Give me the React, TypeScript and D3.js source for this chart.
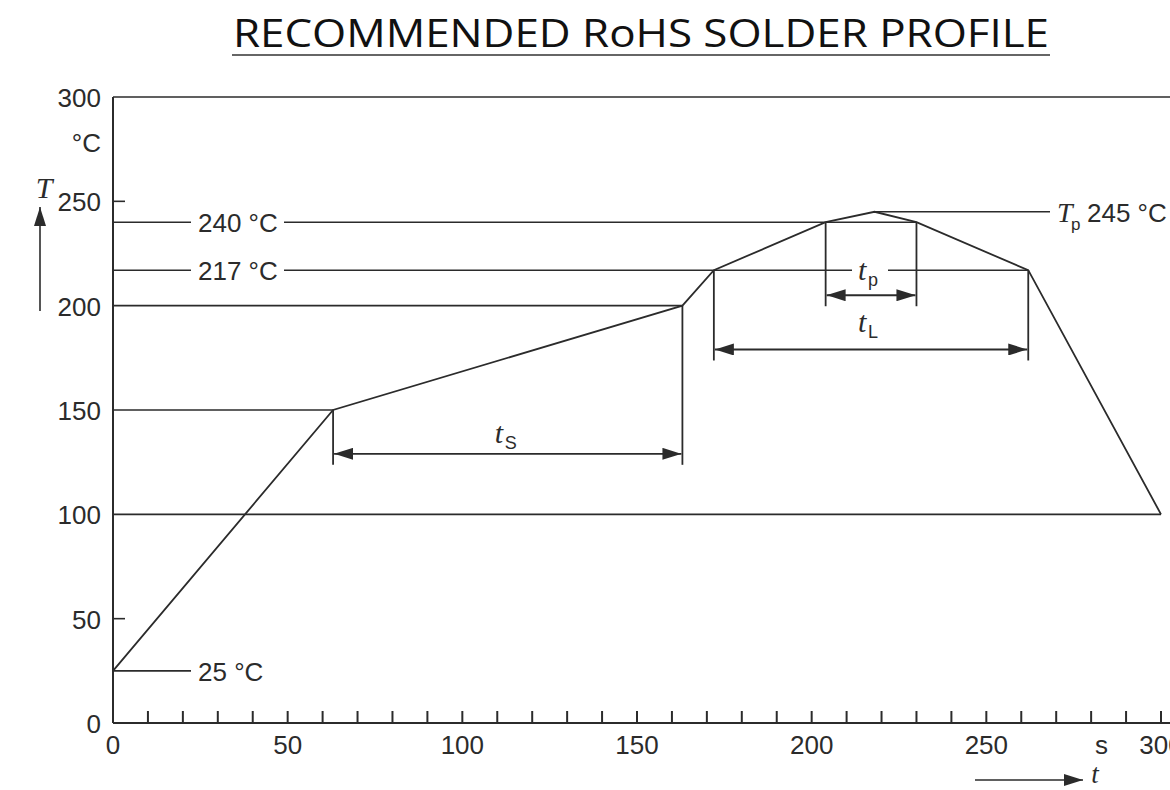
import React from "react";
import * as d3 from "d3";

// profile (seconds, °C)
const profileTime = [0, 63, 163, 172, 204, 218, 230, 262, 300];
const profileTemp = [25, 150, 200, 217, 240, 245, 240, 217, 100];

const xTickValues = d3.range(0, 301, 10);
const xLabelValues = [0, 50, 100, 150, 200, 250, 300];
const yLabelValues = [0, 50, 100, 150, 200, 250, 300];
const yShortTicks = [50, 250];

// horizontal reference lines: temp, end time
const refTemps = [100, 150, 200, 217, 240];
const refEnds = [300, 63, 163, 262, 230];

// duration spans: subscript, from, to, arrow height
const spanNames = ["S", "L", "p"];
const spanFrom = [63, 172, 204];
const spanTo = [163, 262, 230];
const spanLevel = [129, 179, 205];

const W = 1170;
const H = 790;
const ink = "#2b2b2b";
const font = "'Liberation Sans', Arial, sans-serif";
const serif = "'Liberation Serif', 'DejaVu Serif', serif";
const fs = 26;

const App = () => {
  const x = d3.scaleLinear().domain([0, 300]).range([113, 1161]);
  const y = d3.scaleLinear().domain([0, 300]).range([723, 97]);

  const line = d3
    .line<number>()
    .x((_, i) => x(profileTime[i]))
    .y((d) => y(d));

  return (
    <svg
      width={W}
      height={H}
      style={{ position: "absolute", left: 0, top: 0, background: "#fff" }}
      fontFamily={font}
    >
      <defs>
        <marker id="ah" viewBox="0 0 10 10" refX="10" refY="5" markerWidth="19" markerHeight="12" preserveAspectRatio="none" orient="auto-start-reverse" markerUnits="userSpaceOnUse">
          <path d="M0,0 L10,5 L0,10 z" fill={ink} />
        </marker>
      </defs>

      {/* title */}
      <text x={641} y={47} textAnchor="middle" fontFamily="'Open Sans', sans-serif" fontWeight={500} fontSize={38} fill="#111" textLength={816} lengthAdjust="spacingAndGlyphs">
        RECOMMENDED RoHS SOLDER PROFILE
      </text>
      <line x1={232} x2={1050} y1={55} y2={55} stroke="#666" strokeWidth={2} />

      {/* frame */}
      <line x1={x(0)} x2={W} y1={y(300)} y2={y(300)} stroke={ink} strokeWidth={1.6} />
      <line x1={x(0)} x2={x(0)} y1={y(300)} y2={y(0)} stroke={ink} strokeWidth={2} />
      <line x1={x(0)} x2={W} y1={y(0)} y2={y(0)} stroke={ink} strokeWidth={2} />

      {xTickValues.slice(1).map((t) => (
        <line key={t} x1={x(t)} x2={x(t)} y1={y(0)} y2={y(0) - 12} stroke={ink} strokeWidth={2} />
      ))}
      {yShortTicks.map((t) => (
        <line key={t} x1={x(0)} x2={x(0) + 12} y1={y(t)} y2={y(t)} stroke={ink} strokeWidth={1.6} />
      ))}

      {xLabelValues.map((t) => (
        <text key={t} x={x(t)} y={y(0) + 31} textAnchor="middle" fontSize={fs} fill={ink}>
          {t}
        </text>
      ))}
      <text x={x(283)} y={y(0) + 31} textAnchor="middle" fontSize={fs} fill={ink}>s</text>
      {yLabelValues.map((t) => (
        <text key={t} x={101} y={y(t) + 10} textAnchor="end" fontSize={fs} fill={ink}>
          {t}
        </text>
      ))}
      <text x={101} y={152} textAnchor="end" fontSize={fs} fill={ink}>°C</text>

      {/* axis names */}
      <text x={44} y={198} textAnchor="middle" fontFamily={serif} fontStyle="italic" fontSize={30} fill={ink}>T</text>
      <line x1={40} x2={40} y1={311} y2={207} stroke={ink} strokeWidth={1.6} markerEnd="url(#ah)" />
      <line x1={975} x2={1083} y1={780} y2={780} stroke={ink} strokeWidth={1.6} markerEnd="url(#ah)" />
      <text x={1095} y={783} textAnchor="middle" fontFamily={serif} fontStyle="italic" fontSize={27} fill={ink}>t</text>

      {/* reference lines */}
      {refTemps.map((t, i) => {
        const x2 = x(refEnds[i]);
        if (t === 217 || t === 240) {
          return (
            <g key={t}>
              <line x1={x(0)} x2={191} y1={y(t)} y2={y(t)} stroke={ink} strokeWidth={1.6} />
              <line x1={284} x2={t === 217 ? 852 : x2} y1={y(t)} y2={y(t)} stroke={ink} strokeWidth={1.6} />
              {t === 217 && <line x1={888} x2={x2} y1={y(t)} y2={y(t)} stroke={ink} strokeWidth={1.6} />}
              <text x={198} y={y(t) + 10} fontSize={fs} fill={ink}>
                {t} °C
              </text>
            </g>
          );
        }
        return <line key={t} x1={x(0)} x2={x2} y1={y(t)} y2={y(t)} stroke={ink} strokeWidth={1.6} />;
      })}

      {/* 25 °C start label */}
      <line x1={x(0)} x2={191} y1={y(25)} y2={y(25)} stroke={ink} strokeWidth={1.6} />
      <text x={198} y={y(25) + 10} fontSize={fs} fill={ink}>25 °C</text>

      {/* peak label */}
      <line x1={x(218)} x2={1050} y1={y(245)} y2={y(245)} stroke={ink} strokeWidth={1.6} />
      <text x={1057} y={y(245) + 10} fontFamily={serif} fontStyle="italic" fontSize={28} fill={ink}>T</text>
      <text x={1071} y={y(245) + 18} fontSize={17} fill={ink}>p</text>
      <text x={1087} y={y(245) + 10} fontSize={fs} fill={ink}>245 °C</text>

      {/* duration spans */}
      {spanNames.map((n, i) => {
        const a = x(spanFrom[i]);
        const b = x(spanTo[i]);
        const yy = y(spanLevel[i]);
        const topA = y(profileTemp[profileTime.indexOf(spanFrom[i])]);
        const topB = y(profileTemp[profileTime.indexOf(spanTo[i])]);
        const lx = (a + b) / 2 - 4;
        const ly = i === 0 ? yy - 11 : i === 1 ? yy - 17 : y(217) + 10;
        return (
          <g key={n}>
            <line x1={a} x2={a} y1={topA} y2={yy + 11} stroke={ink} strokeWidth={1.8} />
            <line x1={b} x2={b} y1={topB} y2={yy + 11} stroke={ink} strokeWidth={1.8} />
            <line x1={a + 1} x2={b - 1} y1={yy} y2={yy} stroke={ink} strokeWidth={1.8} markerStart="url(#ah)" markerEnd="url(#ah)" />
            <text x={lx - 9} y={ly} fontFamily={serif} fontStyle="italic" fontSize={30} fill={ink}>t</text>
            <text x={lx + 1} y={ly + 6} fontSize={18} fill={ink}>{n}</text>
          </g>
        );
      })}

      {/* profile */}
      <path d={line(profileTemp) ?? ""} fill="none" stroke={ink} strokeWidth={1.8} />
    </svg>
  );
};

export default App;
